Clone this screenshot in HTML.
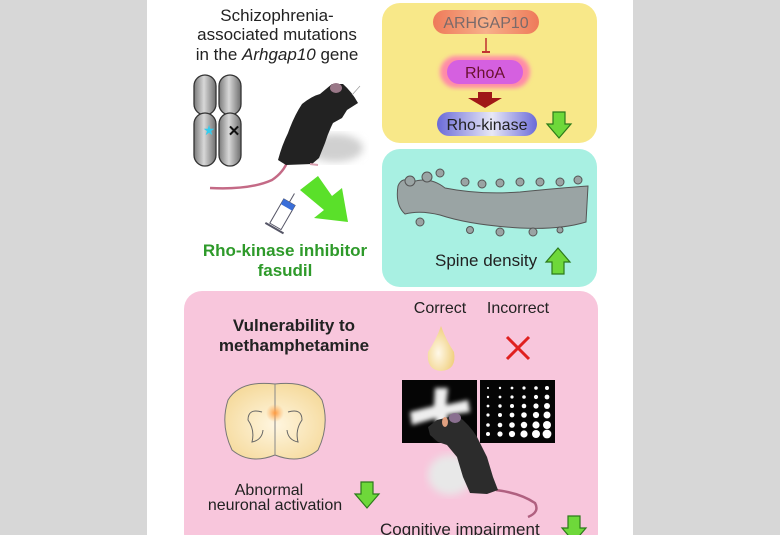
<!DOCTYPE html>
<html><head><meta charset="utf-8"><style>
html,body{margin:0;padding:0;width:780px;height:535px;overflow:hidden;background:#d7d7d7}
svg{display:block}
text{font-family:"Liberation Sans",sans-serif}
</style></head><body>
<svg width="780" height="535" viewBox="0 0 780 535" xmlns="http://www.w3.org/2000/svg">
<defs>
<linearGradient id="chr" x1="0" x2="1"><stop offset="0" stop-color="#7a7a7a"/><stop offset=".45" stop-color="#d8d8d8"/><stop offset="1" stop-color="#6e6e6e"/></linearGradient>
<linearGradient id="rk" x1="0" x2="1"><stop offset="0" stop-color="#6a6ad8"/><stop offset=".55" stop-color="#e8e8f6"/><stop offset="1" stop-color="#6a6ad8"/></linearGradient>
<linearGradient id="ar" x1="0" x2="1"><stop offset="0" stop-color="#ee7a5a"/><stop offset=".5" stop-color="#f7b08a"/><stop offset="1" stop-color="#ee7a5a"/></linearGradient>
<radialGradient id="brain" cx=".5" cy=".55" r=".6"><stop offset="0" stop-color="#fff6e0"/><stop offset="1" stop-color="#f5d99a"/></radialGradient>
<radialGradient id="spot"><stop offset="0" stop-color="#ff9a40"/><stop offset="1" stop-color="#ffb060" stop-opacity="0"/></radialGradient>
<radialGradient id="drop" cx=".4" cy=".6" r=".6"><stop offset="0" stop-color="#fff8e8"/><stop offset="1" stop-color="#f0d080"/></radialGradient>
<filter id="blur"><feGaussianBlur stdDeviation="4"/></filter>
<filter id="b2"><feGaussianBlur stdDeviation="2"/></filter>
<g id="gdown"><path d="M-6,0 H6 V12 H12 L0,26 L-12,12 H-6 Z" fill="#6ed83a" stroke="#2c7a1a" stroke-width="1.2"/></g>
</defs>
<rect x="147" y="0" width="486" height="535" fill="#fff"/>
<rect x="382" y="3" width="215" height="140" rx="18" fill="#f8e889"/>
<rect x="382" y="149" width="215" height="138" rx="18" fill="#a8f0e2"/>
<rect x="184" y="291" width="414" height="260" rx="18" fill="#f8c6dc"/>
<g font-size="17" fill="#222" text-anchor="middle">
<text x="277" y="21">Schizophrenia-</text>
<text x="277" y="40">associated mutations</text>
<text x="277" y="60">in the <tspan font-style="italic">Arhgap10</tspan> gene</text>
</g>
<g stroke="#333" stroke-width="1.3" fill="url(#chr)">
<rect x="194" y="75" width="22" height="40" rx="11"/>
<rect x="219" y="75" width="22" height="40" rx="11"/>
<rect x="194" y="113" width="22" height="53" rx="11"/>
<rect x="219" y="113" width="22" height="53" rx="11"/>
</g>
<text x="209" y="135" font-size="14" fill="#33ccee" text-anchor="middle">★</text>
<text x="234" y="136" font-size="15" font-weight="bold" fill="#111" text-anchor="middle">✕</text>
<!-- mouse 1 -->
<ellipse cx="335" cy="148" rx="28" ry="14" fill="#d0d0d0" filter="url(#blur)"/>
<path d="M210,188 Q250,190 272,180 Q284,172 288,160" stroke="#c46a86" stroke-width="2.5" fill="none"/>
<path d="M278,160 Q282,145 288,133 Q294,116 302,104 Q312,96 320,94 L332,84 L343,84 Q352,92 358,103 L347,110 L342,118 L333,123 Q328,133 325,143 L319,158 L312,164 L286,165 Z" fill="#222"/>
<ellipse cx="336" cy="88" rx="6" ry="5" fill="#9a7888"/>
<path d="M310,164 L318,165" stroke="#d8a0b0" stroke-width="2"/>
<line x1="352" y1="95" x2="360" y2="86" stroke="#999" stroke-width="0.7"/>
<path d="M300,190 L318,176 L332,196 L342,188 L348,222 L314,218 L324,210 Z" fill="#5ae02a"/>
<g transform="rotate(30 282 214)">
<rect x="276" y="200" width="13" height="28" fill="#fff" stroke="#556" stroke-width="1"/>
<rect x="276" y="200" width="13" height="6" fill="#3a6ed8"/>
<line x1="282.5" y1="200" x2="282.5" y2="190" stroke="#556"/>
<line x1="272" y1="230" x2="293" y2="230" stroke="#556" stroke-width="2"/>
</g>
<g font-size="17" font-weight="bold" fill="#2e9a2a" text-anchor="middle">
<text x="285" y="256">Rho-kinase inhibitor</text>
<text x="285" y="276">fasudil</text>
</g>
<rect x="433" y="10" width="106" height="24" rx="12" fill="url(#ar)"/>
<text x="486" y="28" font-size="16" fill="#7a6a6a" text-anchor="middle">ARHGAP10</text>
<line x1="486" y1="38" x2="486" y2="52" stroke="#c03030" stroke-width="1.5"/>
<line x1="482" y1="52" x2="490" y2="52" stroke="#c03030" stroke-width="2"/>
<rect x="440" y="56" width="90" height="32" rx="16" fill="#ff8aa8" filter="url(#b2)"/>
<rect x="447" y="60" width="76" height="24" rx="12" fill="#d560e0"/>
<text x="485" y="78" font-size="16" fill="#6a1030" text-anchor="middle">RhoA</text>
<path d="M478,92 H492 V98 H502 L485,108 L468,98 H478 Z" fill="#a01818"/>
<rect x="437" y="112" width="100" height="24" rx="12" fill="url(#rk)"/>
<text x="487" y="130" font-size="16" fill="#222" text-anchor="middle">Rho-kinase</text>
<use href="#gdown" x="559" y="112"/>
<g fill="#9aa4a4" stroke="#555" stroke-width="1">
<path d="M398,186 Q402,176 412,182 Q430,176 445,188 Q480,195 520,192 Q560,188 588,186 L586,222 Q560,230 520,228 Q470,225 440,215 Q420,210 405,214 Q395,205 398,186 Z"/>
<circle cx="410" cy="181" r="5"/><circle cx="427" cy="177" r="5"/><circle cx="440" cy="173" r="4"/><circle cx="465" cy="182" r="4"/>
<circle cx="482" cy="184" r="4"/><circle cx="500" cy="183" r="4"/><circle cx="520" cy="182" r="4"/><circle cx="540" cy="182" r="4"/><circle cx="560" cy="182" r="4"/><circle cx="578" cy="180" r="4"/>
<circle cx="420" cy="222" r="4"/><circle cx="470" cy="230" r="3.5"/><circle cx="500" cy="232" r="4"/><circle cx="533" cy="232" r="4"/><circle cx="560" cy="230" r="3"/>
</g>
<text x="435" y="266" font-size="17" fill="#222">Spine density</text>
<g transform="translate(558,274) scale(1,-1)"><use href="#gdown"/></g>
<g font-size="17" font-weight="bold" fill="#222" text-anchor="middle">
<text x="294" y="331">Vulnerability to</text>
<text x="294" y="351">methamphetamine</text>
</g>
<text x="440" y="313" font-size="16" fill="#222" text-anchor="middle">Correct</text>
<text x="518" y="313" font-size="16" fill="#222" text-anchor="middle">Incorrect</text>
<path d="M441,326 Q446,340 454,352 Q457,370 441,371 Q426,370 428,352 Q436,340 441,326 Z" fill="url(#drop)"/>
<path d="M507,337 L529,359 M529,337 L507,359" stroke="#e02020" stroke-width="3"/>
<rect x="402" y="380" width="75" height="63" fill="#050505"/>
<rect x="480" y="380" width="75" height="63" fill="#050505"/>
<g fill="#eee" filter="url(#b2)">
<path d="M435,388 L448,388 L446,405 L468,400 L470,412 L447,415 L450,437 L437,438 L436,418 L412,425 L410,412 L434,406 Z"/>
</g>
<g fill="#fff">
<circle cx="488" cy="388" r="1"/><circle cx="500" cy="388" r="1.2"/><circle cx="512" cy="388" r="1.4"/><circle cx="524" cy="388" r="1.6"/><circle cx="536" cy="388" r="1.8"/><circle cx="547" cy="388" r="2"/>
<circle cx="488" cy="397" r="1.2"/><circle cx="500" cy="397" r="1.4"/><circle cx="512" cy="397" r="1.6"/><circle cx="524" cy="397" r="1.8"/><circle cx="536" cy="397" r="2.1"/><circle cx="547" cy="397" r="2.4"/>
<circle cx="488" cy="406" r="1.4"/><circle cx="500" cy="406" r="1.7"/><circle cx="512" cy="406" r="2"/><circle cx="524" cy="406" r="2.3"/><circle cx="536" cy="406" r="2.6"/><circle cx="547" cy="406" r="3"/>
<circle cx="488" cy="415" r="1.6"/><circle cx="500" cy="415" r="2"/><circle cx="512" cy="415" r="2.4"/><circle cx="524" cy="415" r="2.8"/><circle cx="536" cy="415" r="3.1"/><circle cx="547" cy="415" r="3.5"/>
<circle cx="488" cy="425" r="1.8"/><circle cx="500" cy="425" r="2.3"/><circle cx="512" cy="425" r="2.8"/><circle cx="524" cy="425" r="3.2"/><circle cx="536" cy="425" r="3.6"/><circle cx="547" cy="425" r="4"/>
<circle cx="488" cy="434" r="2"/><circle cx="500" cy="434" r="2.6"/><circle cx="512" cy="434" r="3.1"/><circle cx="524" cy="434" r="3.6"/><circle cx="536" cy="434" r="4"/><circle cx="547" cy="434" r="4.4"/>
</g>
<ellipse cx="450" cy="475" rx="22" ry="20" fill="#e8e8e8" filter="url(#blur)"/>
<path d="M496,490 Q520,493 535,503 Q540,512 528,517" stroke="#b06080" stroke-width="2.5" fill="none"/>
<path d="M428,427 L437,420 L457,415 Q470,425 477,437 L487,457 L493,477 L498,490 L487,494 L470,493 L463,477 L457,457 L447,445 L438,442 L430,435 Z" fill="#2c2c2c"/>
<ellipse cx="455" cy="418" rx="6" ry="5" fill="#8a7090"/>
<ellipse cx="445" cy="422" rx="3" ry="5" fill="#e0a080"/>
<path d="M275,384 Q240,380 228,400 Q220,425 232,450 Q250,465 275,455 Q300,465 318,450 Q330,425 322,400 Q310,380 275,384 Z" fill="url(#brain)" stroke="#777" stroke-width="1"/>
<line x1="275" y1="384" x2="275" y2="455" stroke="#888" stroke-width="1"/>
<circle cx="275" cy="413" r="9" fill="url(#spot)"/>
<g fill="none" stroke="#666" stroke-width="1">
<path d="M262,412 Q248,408 248,420 Q255,430 252,442 Q262,440 263,430"/>
<path d="M288,412 Q302,408 302,420 Q295,430 298,442 Q288,440 287,430"/>
</g>
<text x="269" y="495" font-size="16" fill="#222" text-anchor="middle">Abnormal</text>
<text x="275" y="510" font-size="16" fill="#222" text-anchor="middle">neuronal activation</text>
<use href="#gdown" x="367" y="482"/>
<text x="380" y="535" font-size="17" fill="#222">Cognitive impairment</text>
<use href="#gdown" x="574" y="516"/>
</svg>
</body></html>
